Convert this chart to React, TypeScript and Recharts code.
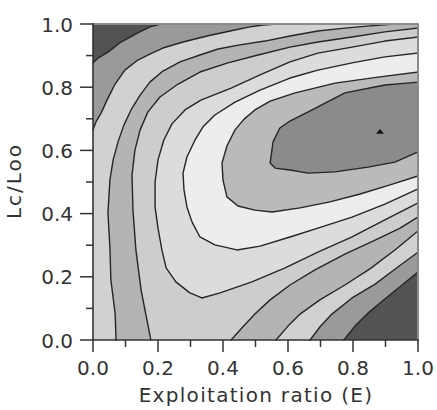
import React from 'react';
import { ScatterChart, Scatter, XAxis, YAxis } from 'recharts';

type Pt = { E: number; L: number };
const toPts = (a: number[][]): Pt[] => a.map(([E, L]) => ({ E, L }));

// Axis ticks
const xTicks = [0, 0.1, 0.2, 0.3, 0.4, 0.5, 0.6, 0.7, 0.8, 0.9, 1.0];
const yTicks = [0, 0.1, 0.2, 0.3, 0.4, 0.5, 0.6, 0.7, 0.8, 0.9, 1.0];
const xTitle = 'Exploitation ratio (E)';
const yTitle = 'Lc/Loo';

// Contour lines (E, Lc/Loo)
const c1Top = toPts([[0.209, 1], [0.175, 0.991], [0.138, 0.972], [0.086, 0.943], [0.046, 0.911], [0.015, 0.892], [0, 0.877]]);
const c1Bot = toPts([[0.772, 0], [0.806, 0.044], [0.846, 0.085], [0.898, 0.13], [0.951, 0.174], [1, 0.215]]);
const c2Top = toPts([[0.566, 1], [0.523, 0.997], [0.483, 0.991], [0.422, 0.978], [0.351, 0.962], [0.277, 0.943], [0.215, 0.924], [0.175, 0.905], [0.138, 0.886], [0.098, 0.854], [0.068, 0.81], [0.043, 0.759], [0.025, 0.718], [0.009, 0.69], [0, 0.665]]);
const c2Bot = toPts([[0.668, 0], [0.698, 0.041], [0.735, 0.082], [0.797, 0.133], [0.868, 0.177], [0.938, 0.231], [1, 0.278]]);
const c3Top = toPts([[0.929, 1], [0.852, 0.994], [0.775, 0.987], [0.692, 0.978], [0.606, 0.962], [0.529, 0.946], [0.452, 0.934], [0.385, 0.921], [0.329, 0.902], [0.268, 0.88], [0.215, 0.851], [0.175, 0.816], [0.145, 0.775], [0.117, 0.728], [0.095, 0.68], [0.077, 0.627], [0.062, 0.57], [0.052, 0.506], [0.046, 0.402], [0.052, 0.294], [0.055, 0.19], [0.068, 0.085], [0.071, 0]]);
const c3Bot = toPts([[0.563, 0], [0.6, 0.044], [0.637, 0.082], [0.698, 0.127], [0.775, 0.174], [0.852, 0.225], [0.929, 0.285], [1, 0.345]]);
const c4Top = toPts([[1, 0.987], [0.898, 0.975], [0.797, 0.959], [0.692, 0.943], [0.606, 0.927], [0.508, 0.902], [0.415, 0.877], [0.329, 0.848], [0.262, 0.81], [0.206, 0.769], [0.169, 0.722], [0.145, 0.665], [0.129, 0.601], [0.12, 0.522], [0.123, 0.411], [0.132, 0.285], [0.148, 0.158], [0.163, 0.079], [0.178, 0]]);
const c4Bot = toPts([[0.425, 0], [0.458, 0.038], [0.498, 0.082], [0.545, 0.127], [0.606, 0.174], [0.683, 0.222], [0.775, 0.272], [0.868, 0.316], [0.945, 0.354], [1, 0.389]]);
const c5 = toPts([[1, 0.959], [0.898, 0.946], [0.797, 0.927], [0.692, 0.908], [0.606, 0.88], [0.514, 0.839], [0.425, 0.797], [0.332, 0.759], [0.283, 0.728], [0.243, 0.684], [0.218, 0.633], [0.2, 0.57], [0.191, 0.5], [0.191, 0.421], [0.2, 0.354], [0.212, 0.285], [0.225, 0.228], [0.255, 0.184], [0.298, 0.149], [0.335, 0.133], [0.391, 0.149], [0.489, 0.184], [0.591, 0.228], [0.692, 0.278], [0.797, 0.326], [0.898, 0.38], [1, 0.434]]);
const c6 = toPts([[1, 0.908], [0.898, 0.896], [0.797, 0.877], [0.692, 0.854], [0.606, 0.829], [0.514, 0.791], [0.437, 0.753], [0.375, 0.712], [0.338, 0.674], [0.314, 0.633], [0.289, 0.579], [0.277, 0.528], [0.28, 0.475], [0.289, 0.421], [0.305, 0.373], [0.329, 0.326], [0.375, 0.301], [0.443, 0.285], [0.514, 0.297], [0.606, 0.326], [0.692, 0.354], [0.797, 0.389], [0.898, 0.43], [1, 0.478]]);
const c7 = toPts([[1, 0.848], [0.877, 0.832], [0.745, 0.813], [0.622, 0.782], [0.545, 0.756], [0.498, 0.728], [0.465, 0.699], [0.437, 0.665], [0.412, 0.614], [0.397, 0.56], [0.4, 0.506], [0.412, 0.453], [0.446, 0.424], [0.498, 0.411], [0.551, 0.405], [0.637, 0.418], [0.729, 0.437], [0.822, 0.462], [0.914, 0.491], [1, 0.519]]);
const c8 = toPts([[1, 0.816], [0.898, 0.807], [0.775, 0.782], [0.674, 0.728], [0.606, 0.693], [0.575, 0.671], [0.554, 0.627], [0.545, 0.56], [0.56, 0.544], [0.606, 0.538], [0.662, 0.528], [0.745, 0.532], [0.846, 0.547], [0.929, 0.563], [1, 0.595]]);
const c9 = toPts([[0.871, 0.653], [0.883, 0.668], [0.895, 0.653]]);

// Fill colours of the bands, lowest level first
const levelColors = ['#535353', '#9a9a9a', '#d1d1d1', '#b4b4b4', '#cdcdcd', '#dcdcdc', '#ededed', '#bababa', '#8b8b8b', '#111111'];

const corner = (E: number, L: number): Pt => ({ E, L });

const regions: Pt[][] = [
  [corner(0, 0), corner(1, 0), corner(1, 1), corner(0, 1)],
  [...c1Top, corner(0, 0), ...c1Bot, corner(1, 1)],
  [...c2Top, corner(0, 0), ...c2Bot, corner(1, 1)],
  [...c3Top, ...c3Bot, corner(1, 1)],
  [...c4Top, ...c4Bot],
  c5,
  c6,
  c7,
  c8,
  c9,
];
const contourLines: Pt[][] = [c1Top, c1Bot, c2Top, c2Bot, c3Top, c3Bot, c4Top, c4Bot, c5, c6, c7, c8];
const frameTopRight: Pt[] = [corner(0, 1), corner(1, 1), corner(1, 0)];
const frameAxes: Pt[] = [corner(0, 1), corner(0, 0), corner(1, 0)];

const FONT = 'DejaVu Sans';
const TEXT = '#333333';

const pathOf = (points: { x: number; y: number }[], close: boolean) =>
  points.map((p, i) => `${i ? 'L' : 'M'}${p.x},${p.y}`).join('') + (close ? 'Z' : '');

const makeFill = (color: string) => (props: any) => (
  <path d={pathOf(props.points, true)} fill={color} stroke="none" />
);
const makeStroke = (color: string, w: number) => (props: any) => (
  <path d={pathOf(props.points, false)} fill="none" stroke={color} strokeWidth={w} strokeLinejoin="round" strokeLinecap="square" />
);
const noDot = () => <g />;

const isMajor = (v: number) => Math.round(v * 10) % 2 === 0;

const XTick = (props: any) => {
  const { x, y, payload } = props;
  const v = payload.value as number;
  const major = isMajor(v);
  return (
    <g>
      <line x1={x} x2={x} y1={y} y2={y + (major ? 12 : 7)} stroke="#333" strokeWidth={1.5} />
      {major && (
        <text x={x} y={y + 35} textAnchor="middle" fontFamily={FONT} fontSize={20} fill={TEXT}>
          {v.toFixed(1)}
        </text>
      )}
    </g>
  );
};

const YTick = (props: any) => {
  const { x, y, payload } = props;
  const v = payload.value as number;
  const major = isMajor(v);
  return (
    <g>
      <line x1={x - (major ? 13 : 7)} x2={x} y1={y} y2={y} stroke="#333" strokeWidth={1.5} />
      {major && (
        <text x={x - 20} y={y + 7.5} textAnchor="end" fontFamily={FONT} fontSize={20} fill={TEXT}>
          {v.toFixed(1)}
        </text>
      )}
    </g>
  );
};

export default function App() {
  return (
    <div style={{ position: 'absolute', left: 0, top: 0, width: 437, height: 410, background: '#ffffff' }}>
      <ScatterChart width={437} height={410} margin={{ top: 24, right: 19, bottom: 0, left: 0 }}>
        <XAxis
          type="number"
          dataKey="E"
          domain={[0, 1]}
          ticks={xTicks}
          interval={0}
          tick={XTick}
          tickLine={false}
          axisLine={false}
          tickSize={0}
          tickMargin={0}
          height={70}
        />
        <YAxis
          type="number"
          dataKey="L"
          domain={[0, 1]}
          ticks={yTicks}
          interval={0}
          tick={YTick}
          tickLine={false}
          axisLine={false}
          tickSize={0}
          tickMargin={0}
          width={93}
        />
        {regions.map((r, i) => (
          <Scatter
            key={`fill-${i}`}
            data={r}
            line={makeFill(levelColors[i])}
            shape={noDot}
            isAnimationActive={false}
            legendType="none"
          />
        ))}
        {contourLines.map((c, i) => (
          <Scatter
            key={`line-${i}`}
            data={c}
            line={makeStroke('#252525', 1.4)}
            shape={noDot}
            isAnimationActive={false}
            legendType="none"
          />
        ))}
        <Scatter data={frameTopRight} line={makeStroke('#8a8a8a', 2)} shape={noDot} isAnimationActive={false} legendType="none" />
        <Scatter data={frameAxes} line={makeStroke('#333333', 1.6)} shape={noDot} isAnimationActive={false} legendType="none" />
      </ScatterChart>
      <svg width={437} height={410} style={{ position: 'absolute', left: 0, top: 0, pointerEvents: 'none' }}>
        <text x={256} y={402} textAnchor="middle" fontFamily={FONT} fontSize={20} letterSpacing={1.3} fill={TEXT}>
          {xTitle}
        </text>
        <text
          x={21}
          y={181}
          textAnchor="middle"
          fontFamily={FONT}
          fontSize={20}
          letterSpacing={2}
          fill={TEXT}
          transform="rotate(-90, 21, 181)"
        >
          {yTitle}
        </text>
      </svg>
    </div>
  );
}
